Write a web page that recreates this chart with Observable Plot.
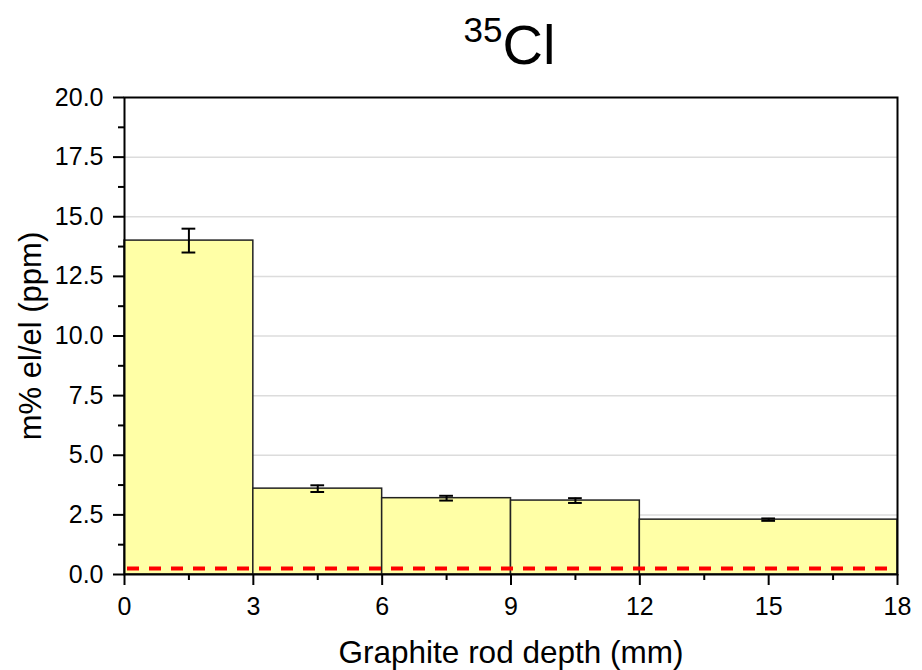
<!DOCTYPE html>
<html><head><meta charset="utf-8">
<script src="https://cdn.jsdelivr.net/npm/d3@7"></script>
<script src="https://cdn.jsdelivr.net/npm/@observablehq/plot@0.6"></script>
<style>
body{margin:0;background:#fff;font-family:"Liberation Sans",Arial,sans-serif;}
#title{height:80px;width:922px;position:relative;}
#title .line{position:absolute;left:0;width:1019px;top:17px;text-align:center;line-height:56px;white-space:nowrap;}
#title .sup{font-size:35px;position:relative;top:-22px;}
#title .el{font-size:56px;}
#chart{width:922px;}
</style></head><body>
<div id="title"><div class="line"><span class="sup">35</span><span class="el">Cl</span></div></div>
<div id="chart"></div>
<script>
const depthStart = [0, 3, 6, 9, 12];
const depthEnd = [3, 6, 9, 12, 18];
const concentration = [14.0, 3.6, 3.2, 3.1, 2.3];
const uncertainty = [0.5, 0.14, 0.1, 0.1, 0.05];
const detectionLimit = [0.25];
const xTicks = [0, 3, 6, 9, 12, 15, 18];
const xMinorTicks = [1.5, 4.5, 7.5, 10.5, 13.5, 16.5];
const yTicks = [0, 2.5, 5, 7.5, 10, 12.5, 15, 17.5, 20];
const yMinorTicks = [1.25, 3.75, 6.25, 8.75, 11.25, 13.75, 16.25, 18.75];
const gridTicks = [2.5, 5, 7.5, 10, 12.5, 15, 17.5];
const xLabel = "Graphite rod depth (mm)";
const yLabel = "m% el/el (ppm)";

const rows = depthStart.map((s, i) => ({
  x1: s, x2: depthEnd[i], mid: (s + depthEnd[i]) / 2,
  v: concentration[i], lo: concentration[i] - uncertainty[i], hi: concentration[i] + uncertainty[i]
}));
const capHalf = 0.16;

const chart = Plot.plot({
  width: 922,
  height: 590,
  marginTop: 17,
  marginBottom: 96,
  marginLeft: 124,
  marginRight: 25,
  style: {fontFamily: "'Liberation Sans', Arial, sans-serif", fontSize: "25px", background: "#fff", color: "#000", overflow: "visible"},
  x: {domain: [0, 18]},
  y: {domain: [0, 20]},
  marks: [
    Plot.gridY(gridTicks, {stroke: "#dcdcdc", strokeOpacity: 1, strokeWidth: 1.5}),
    Plot.rectY(rows, {x1: "x1", x2: "x2", y: "v", fill: "#ffffa6", stroke: "#222", strokeWidth: 1.5}),
    Plot.ruleX(rows, {x: "mid", y1: "lo", y2: "hi", stroke: "#000", strokeWidth: 2}),
    Plot.ruleY(rows, {y: "hi", x1: d => d.mid - capHalf, x2: d => d.mid + capHalf, stroke: "#000", strokeWidth: 2}),
    Plot.ruleY(rows, {y: "lo", x1: d => d.mid - capHalf, x2: d => d.mid + capHalf, stroke: "#000", strokeWidth: 2}),
    Plot.ruleY(detectionLimit, {stroke: "#ff0000", strokeWidth: 4, strokeDasharray: "12,10", strokeDashoffset: -3}),
    Plot.frame({stroke: "#000", strokeWidth: 2}),
    Plot.axisY(yTicks, {tickSize: 11, tickPadding: 10, strokeWidth: 2, tickFormat: d3.format(".1f"), label: null, fontSize: 25}),
    Plot.axisY(yMinorTicks, {tickSize: 6, strokeWidth: 2, tickFormat: () => "", label: null}),
    Plot.axisX(xTicks, {tickSize: 11, tickPadding: 12, strokeWidth: 2, tickFormat: d => d, label: null, fontSize: 25}),
    Plot.axisX(xMinorTicks, {tickSize: 6, strokeWidth: 2, tickFormat: () => "", label: null}),
    Plot.text([yLabel], {frameAnchor: "left", textAnchor: "middle", lineAnchor: "middle", dx: -93, rotate: -90, text: d => d, fontSize: 31, fill: "#000"}),
    Plot.text([xLabel], {frameAnchor: "bottom", textAnchor: "middle", lineAnchor: "middle", dy: 78, text: d => d, fontSize: 31.5, fill: "#000"})
  ]
});
document.getElementById("chart").appendChild(chart);
</script>
</body></html>
